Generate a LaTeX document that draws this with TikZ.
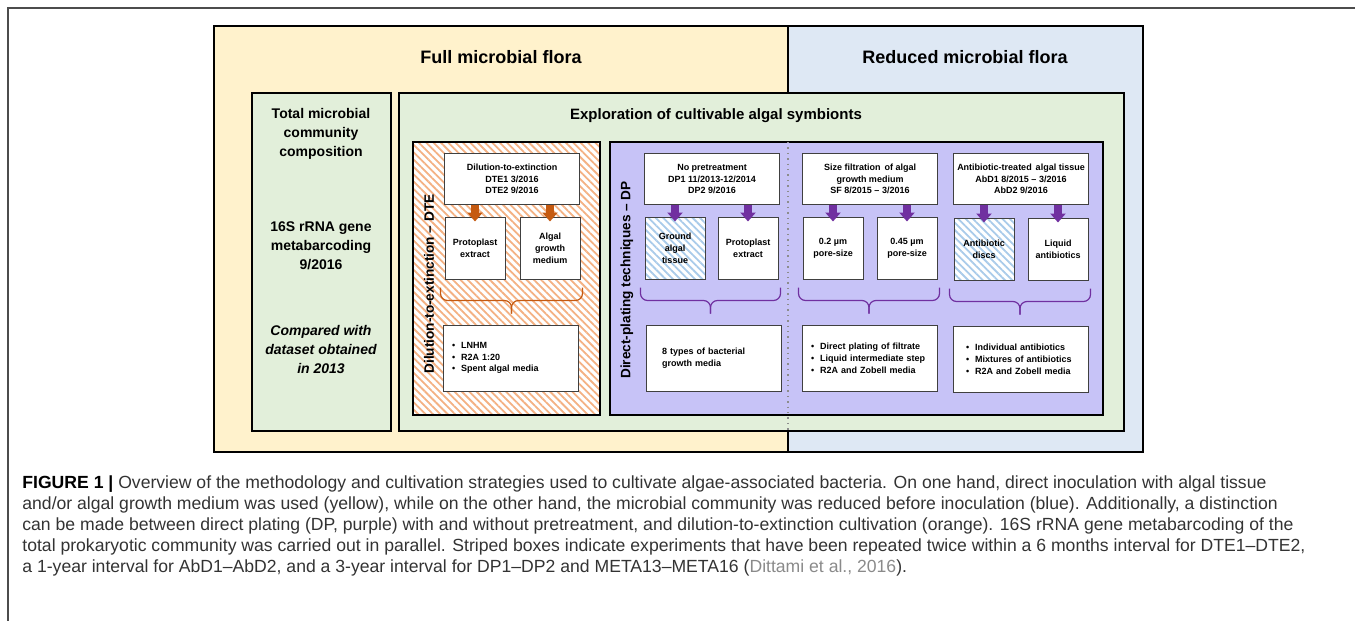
\documentclass[tikz,border=0pt]{standalone}
\usepackage{fontspec}
\setmainfont{Liberation Sans}
\usetikzlibrary{patterns.meta,arrows.meta,calc}

\definecolor{fullyellow}{HTML}{FFF2CC}
\definecolor{reducedblue}{HTML}{DEE8F4}
\definecolor{cultgreen}{HTML}{E2EFDA}
\definecolor{dplilac}{HTML}{C7C3F7}
\definecolor{dteorange}{HTML}{C55A11}
\definecolor{hatchorange}{HTML}{F4B183}
\definecolor{hatchblue}{HTML}{A9CBEA}
\definecolor{dppurple}{HTML}{7030A0}
\definecolor{captiongrey}{HTML}{333333}
\definecolor{citegrey}{HTML}{8A8A8A}

\tikzset{
  region/.style={draw=black, line width=1pt},
  panel/.style={draw=black, line width=0.8pt},
  stepbox/.style={draw=black!75, fill=white, line width=0.5pt, align=center,
    inner sep=1pt, font=\fontsize{4.5}{5.9}\selectfont\bfseries},
  topbox/.style={stepbox, minimum width=67.5pt, minimum height=25.5pt},
  smallbox/.style={stepbox, minimum width=30pt, minimum height=31pt},
  mediabox/.style={stepbox, minimum width=67.5pt, minimum height=33pt,
    text width=59pt, align=left, inner xsep=4pt},
  orangehatch/.style={preaction={fill=white},
    pattern={Lines[angle=-45,distance=2.6pt,line width=0.9pt]}, pattern color=hatchorange},
  bluehatch/.style={preaction={fill=white},
    pattern={Lines[angle=-45,distance=2.6pt,line width=0.9pt]}, pattern color=hatchblue},
  dtearrow/.style={draw=dteorange, line width=3.6pt, -{Triangle[width=7.5pt,length=4.5pt]}},
  dparrow/.style={dtearrow, draw=dppurple},
  dtebrace/.style={draw=dteorange, line width=0.6pt, rounded corners=3.5pt},
  dpbrace/.style={dtebrace, draw=dppurple},
  heading/.style={font=\fontsize{9}{11}\selectfont\bfseries},
  sidelabel/.style={rotate=90, font=\fontsize{6.8}{8}\selectfont\bfseries},
  totaltext/.style={align=center, font=\fontsize{7}{9.5}\selectfont\bfseries},
}

\newcommand{\itembul}{\textbullet\hspace{3pt}}

\begin{document}
\begin{tikzpicture}[x=0.5pt, y=-0.5pt]
\useasboundingbox (0,0) rectangle (1355,621);

% frame of the figure
\draw[black!70, line width=0.8pt] (1355,8) -- (8,8) -- (8,621);

% === Full / reduced flora ===
\draw[region, fill=fullyellow] (214,26) rectangle (788,452);
\draw[region, fill=reducedblue] (788,26) rectangle (1143,452);
\node[heading] (fullTitle) at (501,57) {Full microbial flora};
\node[heading] (reducedTitle) at (965,57) {Reduced microbial flora};

% === Total community ===
\draw[panel, fill=cultgreen] (252,93) rectangle (391,431);
\node[totaltext] (totalTitle) at (321,134) {Total microbial\\community\\composition};
\node[totaltext] (totalMethod) at (321,246) {16S rRNA gene\\metabarcoding\\9/2016};
\node[totaltext, font=\fontsize{7}{9.5}\selectfont\bfseries\itshape]
  (totalCompare) at (321,349) {Compared with\\dataset obtained\\in 2013};

% === Cultivation ===
\draw[panel, fill=cultgreen] (399,93) rectangle (1124,431);
\node[font=\fontsize{7.5}{9}\selectfont\bfseries] (cultTitle) at (716,116)
  {Exploration of cultivable algal symbionts};
\draw[panel, orangehatch] (413,142) rectangle (600,415);
\draw[panel, fill=dplilac] (610,142) rectangle (1103,415);
\draw[black!45, line width=0.7pt, dotted] (788,142) -- (788,431);
\node[sidelabel] (dteLabel) at (429,284) {Dilution-to-extinction -- DTE};
\node[sidelabel] (dpLabel) at (627,280) {Direct-plating techniques -- DP};

% --- DTE ---
\node[topbox] (dteTop) at (512,179) {Dilution-to-extinction\\DTE1 3/2016\\DTE2 9/2016};
\node[smallbox] (dteProto) at (475,248) {Protoplast\\extract};
\node[smallbox] (dteAlgal) at (550,248) {Algal\\growth\\medium};
\node[mediabox] (dteMedia) at (511,358)
  {\itembul LNHM\\\itembul R2A 1:20\\\itembul Spent algal media};

% --- DP ---
\node[topbox] (dpTop) at (712,179) {No pretreatment\\DP1 11/2013-12/2014\\DP2 9/2016};
\node[smallbox, bluehatch] (dpGround) at (675,248) {Ground\\algal\\tissue};
\node[smallbox] (dpProto) at (748,248) {Protoplast\\extract};
\node[mediabox, inner xsep=7.5pt, text width=52pt] (dpMedia) at (714,358)
  {8 types of bacterial\\growth media};

% --- SF ---
\node[topbox] (sfTop) at (870,179) {Size filtration\, of algal\\growth medium\\SF 8/2015 -- 3/2016};
\node[smallbox] (sfSmall) at (833,248) {0.2 µm\\pore-size};
\node[smallbox] (sfLarge) at (907,248) {0.45 µm\\pore-size};
\node[mediabox] (sfMedia) at (870,358)
  {\itembul Direct plating of filtrate\\\itembul Liquid intermediate step\\\itembul R2A and Zobell media};

% --- AbD ---
\node[topbox] (abTop) at (1021,179) {Antibiotic-treated\, algal tissue\\AbD1 8/2015 -- 3/2016\\AbD2 9/2016};
\node[smallbox, bluehatch] (abDiscs) at (984,249) {Antibiotic\\discs};
\node[smallbox] (abLiquid) at (1058,249) {Liquid\\antibiotics};
\node[mediabox, inner xsep=6pt, text width=55pt] (abMedia) at (1021,359)
  {\itembul Individual antibiotics\\\itembul Mixtures of antibiotics\\\itembul R2A and Zobell media};

% === Arrows and braces ===
\foreach \dst in {dteProto, dteAlgal}{
  \draw[dtearrow] (dteTop.south -| \dst.north) -- ([yshift=-2.5pt]\dst.north);
}
\foreach \src/\dst in {dpTop/dpGround, dpTop/dpProto, sfTop/sfSmall, sfTop/sfLarge, abTop/abDiscs, abTop/abLiquid}{
  \draw[dparrow] (\src.south -| \dst.north) -- ([yshift=-2.5pt]\dst.north);
}
\foreach \a/\b/\kind in {dteProto/dteAlgal/dtebrace, dpGround/dpProto/dpbrace, sfSmall/sfLarge/dpbrace, abDiscs/abLiquid/dpbrace}{
  \coordinate (bl) at ([xshift=-2pt, yshift=-4pt]\a.south west);
  \coordinate (br) at ([xshift=1pt, yshift=-4pt]\b.south east);
  \coordinate (bm) at ($(bl)!0.5!(br)$);
  \draw[\kind] (bl) -- ([yshift=-6.5pt]bl) -- ([yshift=-6.5pt]bm) -- ([yshift=-13pt]bm);
  \draw[\kind] (br) -- ([yshift=-6.5pt]br) -- ([yshift=-6.5pt]bm) -- ([yshift=-13pt]bm);
}

% === Caption ===
\node[anchor=north west, inner sep=0pt, align=left, text=captiongrey,
  font=\fontsize{8.8}{10.5}\selectfont] (caption) at (22,475)
  {\textbf{\color{black}FIGURE 1 |} Overview of the methodology and cultivation strategies used to cultivate algae-associated bacteria. On one hand, direct inoculation with algal tissue\\
  and/or algal growth medium was used (yellow), while on the other hand, the microbial community was reduced before inoculation (blue). Additionally, a distinction\\
  can be made between direct plating (DP, purple) with and without pretreatment, and dilution-to-extinction cultivation (orange). 16S rRNA gene metabarcoding of the\\
  total prokaryotic community was carried out in parallel. Striped boxes indicate experiments that have been repeated twice within a 6 months interval for DTE1--DTE2,\\
  a 1-year interval for AbD1--AbD2, and a 3-year interval for DP1--DP2 and META13--META16 ({\color{citegrey}Dittami et al., 2016}).};
\end{tikzpicture}
\end{document}
